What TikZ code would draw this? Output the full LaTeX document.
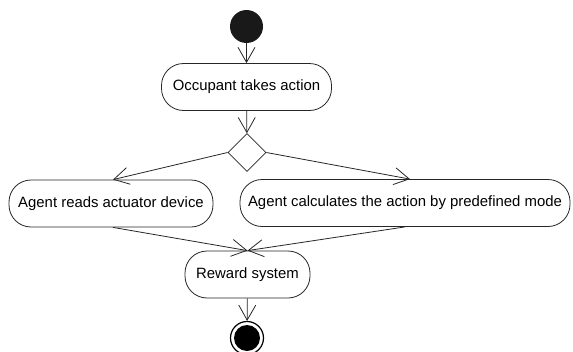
\documentclass[tikz,border=0pt]{standalone}
\usepackage{fontspec}
\setmainfont{Liberation Sans}
\usetikzlibrary{arrows.meta,shapes.geometric}
\begin{document}
\begin{tikzpicture}[x=1pt,y=-1pt,
  flow/.style={draw=black!85, line width=0.8pt},
  act/.style={flow, rounded corners=22pt, minimum height=47pt, inner xsep=0pt, font=\fontsize{14.9pt}{17pt}\selectfont},
  barb/.style={-{Straight Barb[length=15pt,width=17pt,line width=0.8pt]}},
  decision/.style={flow, diamond, minimum width=38pt, minimum height=38pt, inner sep=0pt}
]
\useasboundingbox (0,0) rectangle (573,351);
% start and end states
\node (start) [circle, fill=black!90, minimum size=33pt, inner sep=0pt] at (246.5,26.5) {};
\node (stop) [circle, draw=black, line width=1.2pt, fill=white, minimum size=33pt, inner sep=0pt] at (247,338) {};
\node (stopdot) [circle, fill=black, minimum size=26pt, inner sep=0pt] at (stop.center) {};
% activities
\node (occ) [act, minimum width=170pt] at (246.5,87) {Occupant takes action};
\node (choice) [decision] at (247,152.5) {};
\node (read) [act, minimum width=204pt] at (111,203.5) {Agent reads actuator device};
\node (calc) [act, minimum width=330pt] at (405,203) {Agent calculates the action by predefined mode};
\node (reward) [act, minimum width=125pt] at (247.5,274.5) {Reward system};
% flows
\draw[flow,barb] (start) -- (occ);
\draw[flow,barb] (occ) -- (choice);
\draw[flow,barb] (choice.west) -- (read.north -| 113,0);
\draw[flow,barb] (choice.east) -- (calc.north -| 410,0);
\coordinate (join) at (reward.north);
\draw[flow,barb] (read.south -| 113,0) -- (join);
\draw[flow,barb] (calc.south -| 405,0) -- (join);
\draw[flow,barb] (reward) -- (stop);
\end{tikzpicture}
\end{document}
